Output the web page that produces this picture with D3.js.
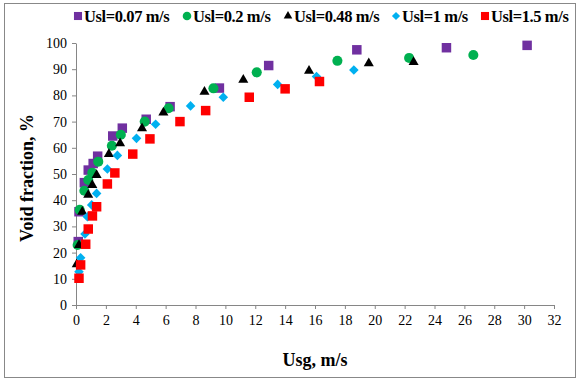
<!DOCTYPE html>
<html>
<head>
<meta charset="utf-8">
<script src="https://cdn.jsdelivr.net/npm/d3@7"></script>
<style>
  body { margin: 0; background: #fff; }
  text { font-family: "Liberation Serif", "Times New Roman", serif; }
</style>
</head>
<body>
<div id="chart"></div>
<script>
// data: [Usg, void fraction]
var usl007 = [[0.15,24.2],[0.2,35.6],[0.56,46.7],[0.82,51.5],[1.15,54],[1.45,56.8],[2.46,64.5],[3.1,67.5],[4.7,70.9],[6.3,75.7],[9.6,82.8],[12.9,91.4],[18.8,97.4],[24.8,98.2],[30.2,99.1]];
var usl02 = [[0.11,22.9],[0.25,36.3],[0.56,43.6],[0.82,47.7],[1.09,50.5],[1.49,54.7],[2.4,60.8],[3.0,65],[4.6,70],[6.2,75.1],[9.2,82.7],[12.1,88.8],[17.5,93.2],[22.3,94.3],[26.6,95.4]];
var usl048 = [[0.05,15.5],[0.2,22.9],[0.42,35.6],[0.82,42],[1.09,45.8],[1.38,49.6],[2.2,57.6],[2.95,61.7],[4.42,67.4],[5.85,73.4],[8.6,81.4],[11.2,85.9],[15.6,89.4],[19.6,92.2],[22.6,92.7]];
var usl1 = [[0.2,12.7],[0.31,18],[0.6,27.1],[0.76,33.7],[1.05,38.2],[1.38,42.6],[2.1,51.9],[2.77,57.1],[4.05,63.6],[5.33,69],[7.67,76],[9.86,79.3],[13.5,84.2],[16.1,87.2],[18.6,89.7]];
var usl15 = [[0.2,10.2],[0.31,15.3],[0.65,23.2],[0.82,29],[1.1,34],[1.38,37.5],[2.1,46.2],[2.6,50.4],[3.8,57.6],[4.95,63.4],[6.96,70],[8.68,74.2],[11.6,79.3],[14.0,82.5],[16.3,85.3]];

var seriesNames = ["Usl=0.07 m/s", "Usl=0.2 m/s", "Usl=0.48 m/s", "Usl=1 m/s", "Usl=1.5 m/s"];
var xTicks = d3.range(0, 33, 2);
var yTicks = d3.range(0, 101, 10);

var svgWidth = 577;
var svgHeight = 380;
var margin = { top: 43, right: 23, bottom: 75, left: 76 };
var width = svgWidth - margin.left - margin.right;
var height = svgHeight - margin.top - margin.bottom;

var svg = d3.select("#chart")
  .append("svg")
  .attr("width", svgWidth)
  .attr("height", svgHeight);

// outer frame
svg.append("rect")
  .attr("x", 4.5)
  .attr("y", 3.5)
  .attr("width", 571)
  .attr("height", 374)
  .attr("fill", "none")
  .attr("stroke", "#888");

var chartGroup = svg.append("g")
  .attr("transform", `translate(${margin.left}, ${margin.top})`);

var xScale = d3.scaleLinear().domain([0, 32]).range([0, width]);
var yScale = d3.scaleLinear().domain([0, 100]).range([height, 0]);

var xAxis = chartGroup.append("g")
  .attr("transform", `translate(0, ${height})`)
  .call(d3.axisBottom(xScale).tickValues(xTicks).tickSize(4).tickPadding(6).tickSizeOuter(0));

var yAxis = chartGroup.append("g")
  .call(d3.axisLeft(yScale).tickValues(yTicks).tickSize(4).tickPadding(5).tickSizeOuter(0));

[xAxis, yAxis].forEach(function(ax) {
  ax.attr("font-family", "Liberation Serif").attr("font-size", 14);
  ax.select(".domain").attr("stroke", "#868686");
  ax.selectAll(".tick line").attr("stroke", "#868686");
  ax.selectAll(".tick text").attr("fill", "#000");
});

// marker styles
var styles = [
  { data: usl007, color: "#7030A0", shape: "square" },
  { data: usl02, color: "#00B050", shape: "circle" },
  { data: usl048, color: "#000000", shape: "triangle" },
  { data: usl1, color: "#00B0F0", shape: "diamond" },
  { data: usl15, color: "#FF0000", shape: "square" }
];

function markerPath(shape, scale) {
  var s = scale || 1;
  if (shape === "square") return d3.symbol(d3.symbolSquare, 90 * s * s)();
  if (shape === "circle") return d3.symbol(d3.symbolCircle, 80 * s * s)();
  if (shape === "triangle") return d3.symbol(d3.symbolTriangle, 44 * s * s)();
  return d3.symbol(d3.symbolSquare, 46 * s * s)();
}

styles.forEach(function(st) {
  chartGroup.selectAll(null)
    .data(st.data)
    .enter()
    .append("path")
    .attr("d", markerPath(st.shape))
    .attr("transform", function(d) {
      var t = `translate(${xScale(d[0])}, ${yScale(d[1])})`;
      return st.shape === "diamond" ? t + " rotate(45)" : t;
    })
    .attr("fill", st.color);
});

// legend
var legendX = [78, 187, 288, 396, 485];
var legend = svg.append("g").attr("transform", "translate(0, 16)");
styles.forEach(function(st, i) {
  var item = legend.append("g").attr("transform", `translate(${legendX[i]}, 0)`);
  item.append("path")
    .attr("d", markerPath(st.shape, 0.85))
    .attr("transform", st.shape === "diamond" ? "rotate(45)" : null)
    .attr("fill", st.color);
  item.append("text")
    .attr("x", 6)
    .attr("y", 5.5)
    .style("font-size", "16.5px")
    .style("font-weight", "bold")
    .style("letter-spacing", "-0.4px")
    .text(seriesNames[i]);
});

// axis titles
svg.append("text")
  .attr("x", margin.left + width / 2)
  .attr("y", 366)
  .attr("text-anchor", "middle")
  .style("font-size", "18px")
  .style("font-weight", "bold")
  .text("Usg, m/s");

svg.append("text")
  .attr("transform", `translate(33, ${margin.top + height / 2 + 4}) rotate(-90)`)
  .attr("text-anchor", "middle")
  .style("font-size", "18px")
  .style("font-weight", "bold")
  .text("Void fraction, %");
</script>
</body>
</html>
